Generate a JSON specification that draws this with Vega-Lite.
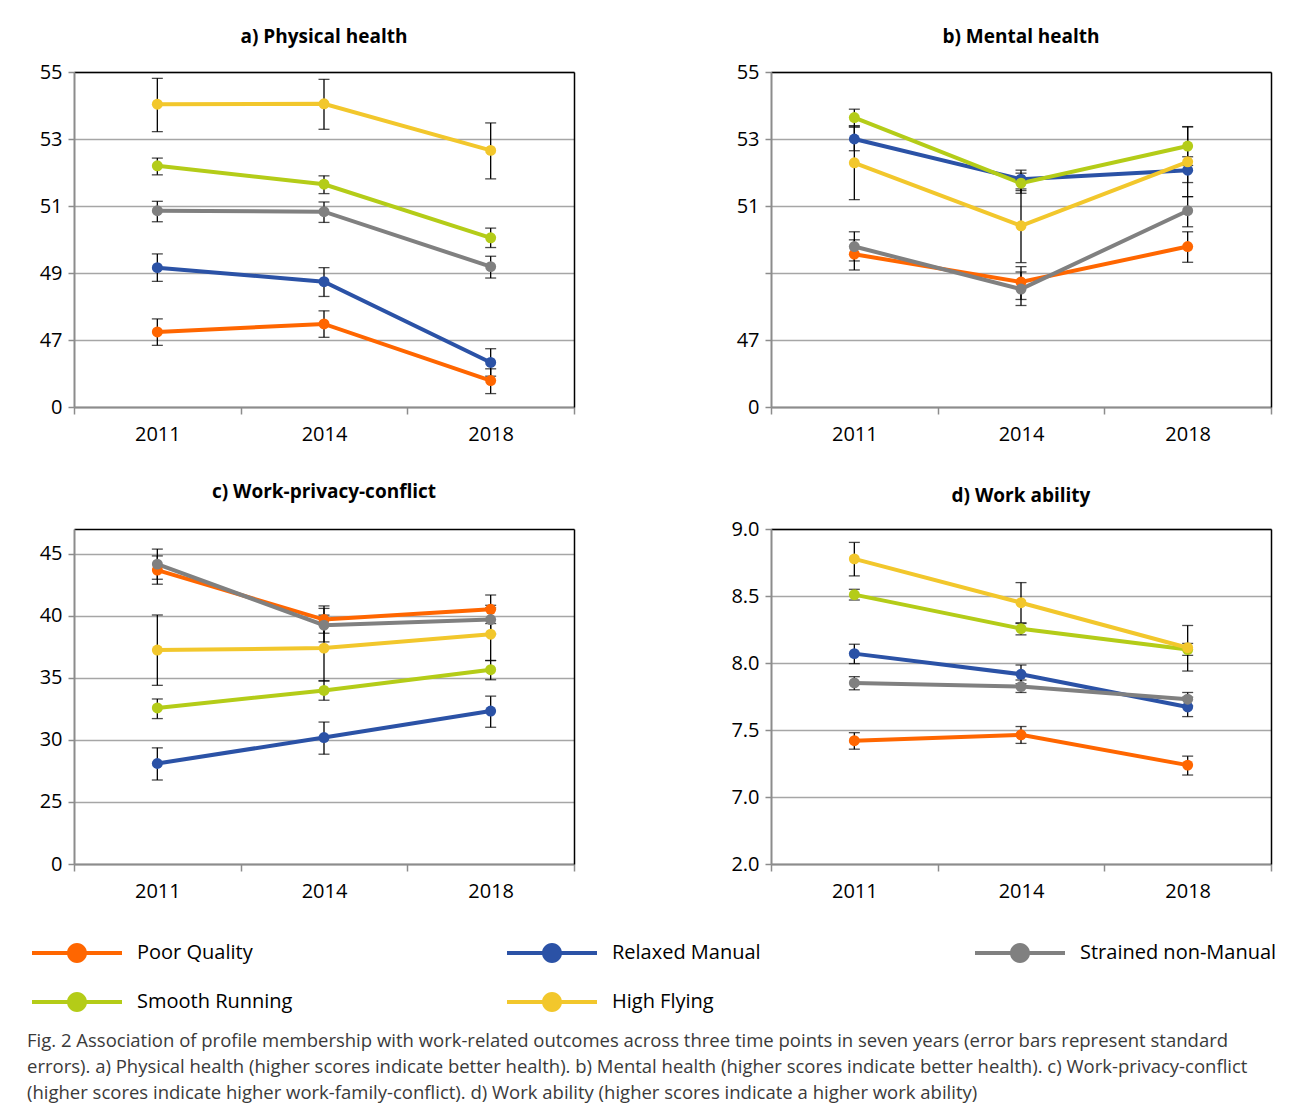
{
 "$schema": "https://vega.github.io/schema/vega-lite/v6.json",
 "background": "white",
 "padding": {"left": 27, "top": 28, "right": 5, "bottom": 5},
 "config": {
  "font": "Open Sans",
  "view": {"stroke": null},
  "axis": {"labelFont": "Open Sans", "labelFontSize": 20, "labelColor": "black", "domainColor": "#8c8c8c", "domainWidth": 2, "tickColor": "#8c8c8c", "tickWidth": 1.5, "gridColor": "#a6a6a6", "gridWidth": 1.5},
  "title": {"font": "Open Sans", "fontSize": 19, "fontWeight": "bold", "color": "black", "anchor": "middle", "offset": 15}
 },
 "datasets": {
  "phys": [
   {"profile": "Poor Quality", "year": "2011", "value": 47.24, "lo": 46.84, "hi": 47.63},
   {"profile": "Poor Quality", "year": "2014", "value": 47.48, "lo": 47.08, "hi": 47.87},
   {"profile": "Poor Quality", "year": "2018", "value": 45.79, "lo": 45.40, "hi": 46.14},
   {"profile": "Relaxed Manual", "year": "2011", "value": 49.16, "lo": 48.75, "hi": 49.57},
   {"profile": "Relaxed Manual", "year": "2014", "value": 48.74, "lo": 48.30, "hi": 49.16},
   {"profile": "Relaxed Manual", "year": "2018", "value": 46.33, "lo": 45.92, "hi": 46.74},
   {"profile": "Strained non-Manual", "year": "2011", "value": 50.86, "lo": 50.53, "hi": 51.14},
   {"profile": "Strained non-Manual", "year": "2014", "value": 50.83, "lo": 50.51, "hi": 51.12},
   {"profile": "Strained non-Manual", "year": "2018", "value": 49.19, "lo": 48.85, "hi": 49.50},
   {"profile": "Smooth Running", "year": "2011", "value": 52.20, "lo": 51.93, "hi": 52.43},
   {"profile": "Smooth Running", "year": "2014", "value": 51.65, "lo": 51.37, "hi": 51.90},
   {"profile": "Smooth Running", "year": "2018", "value": 50.05, "lo": 49.76, "hi": 50.34},
   {"profile": "High Flying", "year": "2011", "value": 54.04, "lo": 53.22, "hi": 54.81},
   {"profile": "High Flying", "year": "2014", "value": 54.05, "lo": 53.29, "hi": 54.78},
   {"profile": "High Flying", "year": "2018", "value": 52.66, "lo": 51.81, "hi": 53.48}
  ],
  "ment": [
   {"profile": "Poor Quality", "year": "2011", "value": 49.56, "lo": 49.09, "hi": 49.99},
   {"profile": "Poor Quality", "year": "2014", "value": 48.73, "lo": 48.21, "hi": 49.19},
   {"profile": "Poor Quality", "year": "2018", "value": 49.79, "lo": 49.32, "hi": 50.23},
   {"profile": "Relaxed Manual", "year": "2011", "value": 53.00, "lo": 52.65, "hi": 53.35},
   {"profile": "Relaxed Manual", "year": "2014", "value": 51.80, "lo": 51.46, "hi": 52.07},
   {"profile": "Relaxed Manual", "year": "2018", "value": 52.07, "lo": 51.70, "hi": 52.47},
   {"profile": "Strained non-Manual", "year": "2011", "value": 49.79, "lo": 49.36, "hi": 50.23},
   {"profile": "Strained non-Manual", "year": "2014", "value": 48.52, "lo": 48.03, "hi": 49.03},
   {"profile": "Strained non-Manual", "year": "2018", "value": 50.86, "lo": 50.38, "hi": 51.28},
   {"profile": "Smooth Running", "year": "2011", "value": 53.64, "lo": 53.39, "hi": 53.89},
   {"profile": "Smooth Running", "year": "2014", "value": 51.68, "lo": 51.38, "hi": 51.98},
   {"profile": "Smooth Running", "year": "2018", "value": 52.79, "lo": 52.21, "hi": 53.37},
   {"profile": "High Flying", "year": "2011", "value": 52.29, "lo": 51.19, "hi": 53.39},
   {"profile": "High Flying", "year": "2014", "value": 50.41, "lo": 49.31, "hi": 51.51},
   {"profile": "High Flying", "year": "2018", "value": 52.32, "lo": 51.28, "hi": 53.36}
  ],
  "wpc": [
   {"profile": "Poor Quality", "year": "2011", "value": 43.69, "lo": 42.55, "hi": 44.83},
   {"profile": "Poor Quality", "year": "2014", "value": 39.70, "lo": 38.60, "hi": 40.80},
   {"profile": "Poor Quality", "year": "2018", "value": 40.53, "lo": 39.38, "hi": 41.68},
   {"profile": "Relaxed Manual", "year": "2011", "value": 28.10, "lo": 26.77, "hi": 29.36},
   {"profile": "Relaxed Manual", "year": "2014", "value": 30.19, "lo": 28.85, "hi": 31.44},
   {"profile": "Relaxed Manual", "year": "2018", "value": 32.33, "lo": 31.02, "hi": 33.53},
   {"profile": "Strained non-Manual", "year": "2011", "value": 44.17, "lo": 42.95, "hi": 45.38},
   {"profile": "Strained non-Manual", "year": "2014", "value": 39.25, "lo": 37.90, "hi": 40.60},
   {"profile": "Strained non-Manual", "year": "2018", "value": 39.70, "lo": 38.55, "hi": 40.85},
   {"profile": "Smooth Running", "year": "2011", "value": 32.58, "lo": 31.72, "hi": 33.30},
   {"profile": "Smooth Running", "year": "2014", "value": 33.99, "lo": 33.20, "hi": 34.78},
   {"profile": "Smooth Running", "year": "2018", "value": 35.66, "lo": 34.85, "hi": 36.40},
   {"profile": "High Flying", "year": "2011", "value": 37.24, "lo": 34.40, "hi": 40.07},
   {"profile": "High Flying", "year": "2014", "value": 37.40, "lo": 34.74, "hi": 40.06},
   {"profile": "High Flying", "year": "2018", "value": 38.52, "lo": 36.40, "hi": 40.64}
  ],
  "wa": [
   {"profile": "Poor Quality", "year": "2011", "value": 7.420, "lo": 7.357, "hi": 7.480},
   {"profile": "Poor Quality", "year": "2014", "value": 7.464, "lo": 7.400, "hi": 7.526},
   {"profile": "Poor Quality", "year": "2018", "value": 7.238, "lo": 7.164, "hi": 7.305},
   {"profile": "Relaxed Manual", "year": "2011", "value": 8.070, "lo": 7.995, "hi": 8.140},
   {"profile": "Relaxed Manual", "year": "2014", "value": 7.916, "lo": 7.845, "hi": 7.985},
   {"profile": "Relaxed Manual", "year": "2018", "value": 7.672, "lo": 7.600, "hi": 7.745},
   {"profile": "Strained non-Manual", "year": "2011", "value": 7.851, "lo": 7.800, "hi": 7.898},
   {"profile": "Strained non-Manual", "year": "2014", "value": 7.824, "lo": 7.780, "hi": 7.873},
   {"profile": "Strained non-Manual", "year": "2018", "value": 7.730, "lo": 7.680, "hi": 7.780},
   {"profile": "Smooth Running", "year": "2011", "value": 8.510, "lo": 8.470, "hi": 8.550},
   {"profile": "Smooth Running", "year": "2014", "value": 8.256, "lo": 8.210, "hi": 8.295},
   {"profile": "Smooth Running", "year": "2018", "value": 8.100, "lo": 8.057, "hi": 8.146},
   {"profile": "High Flying", "year": "2011", "value": 8.777, "lo": 8.650, "hi": 8.900},
   {"profile": "High Flying", "year": "2014", "value": 8.450, "lo": 8.300, "hi": 8.600},
   {"profile": "High Flying", "year": "2018", "value": 8.114, "lo": 7.940, "hi": 8.280}
  ]
 },
 "title": {
  "text": [
   "Fig. 2 Association of profile membership with work-related outcomes across three time points in seven years (error bars represent standard",
   "errors). a) Physical health (higher scores indicate better health). b) Mental health (higher scores indicate better health). c) Work-privacy-conflict",
   "(higher scores indicate higher work-family-conflict). d) Work ability (higher scores indicate a higher work ability)"
  ],
  "orient": "bottom",
  "anchor": "start",
  "frame": "group",
  "dx": -47,
  "fontSize": 18.5,
  "fontWeight": "normal",
  "color": "#3a3a3a",
  "lineHeight": 26,
  "offset": 20
 },
 "columns": 2,
 "spacing": {"row": 39, "column": 155},
 "concat": [
  {
   "title": {"text": "a) Physical health", "offset": 15},
   "width": 500, "height": 335,
   "data": {"name": "phys"},
   "resolve": {"axis": {"x": "independent", "y": "independent"}},
   "layer": [
    {"mark": {"type": "rule", "color": "black", "strokeWidth": 1.3},
     "encoding": {
      "x": {"field": "year", "type": "ordinal", "scale": {"type": "band", "paddingInner": 0, "paddingOuter": 0}, "axis": {"orient": "bottom", "title": null, "tickBand": "extent", "labelAngle": 0, "grid": false, "tickSize": 7, "labelPadding": 10}},
      "y": {"field": "lo", "type": "quantitative", "scale": {"domain": [45, 55], "nice": false, "zero": false}, "axis": {"orient": "left", "title": null, "values": [45, 47, 49, 51, 53, 55], "labelExpr": "datum.value == 45 ? '0' : datum.label", "tickSize": 6, "labelPadding": 6}},
      "y2": {"field": "hi"}}},
    {"mark": {"type": "tick", "color": "black", "size": 11, "thickness": 1.3},
     "encoding": {
      "x": {"field": "year", "type": "ordinal", "scale": {"type": "band", "paddingInner": 0, "paddingOuter": 0}, "axis": null},
      "y": {"field": "lo", "type": "quantitative", "scale": {"domain": [45, 55], "nice": false, "zero": false}, "axis": null}}},
    {"mark": {"type": "tick", "color": "black", "size": 11, "thickness": 1.3},
     "encoding": {
      "x": {"field": "year", "type": "ordinal", "scale": {"type": "band", "paddingInner": 0, "paddingOuter": 0}, "axis": null},
      "y": {"field": "hi", "type": "quantitative", "scale": {"domain": [45, 55], "nice": false, "zero": false}, "axis": null}}},
    {"mark": {"type": "line", "strokeWidth": 4},
     "encoding": {
      "x": {"field": "year", "type": "ordinal", "scale": {"type": "band", "paddingInner": 0, "paddingOuter": 0}, "axis": {"orient": "top", "title": null, "labels": false, "ticks": false, "grid": false, "domainColor": "black", "domainWidth": 1.5}},
      "y": {"field": "value", "type": "quantitative", "scale": {"domain": [45, 55], "nice": false, "zero": false}, "axis": {"orient": "right", "title": null, "labels": false, "ticks": false, "grid": false, "domainColor": "black", "domainWidth": 1.5}},
      "color": {"field": "profile", "type": "nominal", "scale": {"domain": ["Poor Quality", "Relaxed Manual", "Strained non-Manual", "Smooth Running", "High Flying"], "range": ["#ff6600", "#2b52a6", "#808080", "#b4cc18", "#f2c72c"]},
       "legend": {"title": null, "orient": "none", "legendX": -27, "legendY": 851, "direction": "horizontal", "columns": 3, "symbolType": "M-1.5,-0.0667H1.5V0.0667H-1.5Z M0.333,0A0.333,0.333 0 1,1 -0.333,0A0.333,0.333 0 1,1 0.333,0Z", "symbolSize": 3600, "symbolStrokeWidth": 0, "symbolOpacity": 1, "labelFont": "Open Sans", "labelFontSize": 20, "labelColor": "black", "labelOffset": 30, "columnPadding": 214, "rowPadding": 9, "labelLimit": 400}}}},
    {"mark": {"type": "point", "filled": true, "size": 120, "opacity": 1},
     "encoding": {
      "x": {"field": "year", "type": "ordinal", "scale": {"type": "band", "paddingInner": 0, "paddingOuter": 0}, "axis": null},
      "y": {"field": "value", "type": "quantitative", "scale": {"domain": [45, 55], "nice": false, "zero": false}, "axis": null},
      "color": {"field": "profile", "type": "nominal", "scale": {"domain": ["Poor Quality", "Relaxed Manual", "Strained non-Manual", "Smooth Running", "High Flying"], "range": ["#ff6600", "#2b52a6", "#808080", "#b4cc18", "#f2c72c"]},
       "legend": {"title": null, "orient": "none", "legendX": -27, "legendY": 851, "direction": "horizontal", "columns": 3, "symbolType": "M-1.5,-0.0667H1.5V0.0667H-1.5Z M0.333,0A0.333,0.333 0 1,1 -0.333,0A0.333,0.333 0 1,1 0.333,0Z", "symbolSize": 3600, "symbolStrokeWidth": 0, "symbolOpacity": 1, "labelFont": "Open Sans", "labelFontSize": 20, "labelColor": "black", "labelOffset": 30, "columnPadding": 214, "rowPadding": 9, "labelLimit": 400}}}}
   ]
  },
  {
   "title": {"text": "b) Mental health", "offset": 15},
   "width": 500, "height": 335,
   "data": {"name": "ment"},
   "resolve": {"axis": {"x": "independent", "y": "independent"}},
   "layer": [
    {"mark": {"type": "rule", "color": "black", "strokeWidth": 1.3},
     "encoding": {
      "x": {"field": "year", "type": "ordinal", "scale": {"type": "band", "paddingInner": 0, "paddingOuter": 0}, "axis": {"orient": "bottom", "title": null, "tickBand": "extent", "labelAngle": 0, "grid": false, "tickSize": 7, "labelPadding": 10}},
      "y": {"field": "lo", "type": "quantitative", "scale": {"domain": [45, 55], "nice": false, "zero": false}, "axis": {"orient": "left", "title": null, "values": [45, 47, 49, 51, 53, 55], "labelExpr": "datum.value == 45 ? '0' : datum.value == 49 ? '' : datum.label", "tickSize": 6, "labelPadding": 6}},
      "y2": {"field": "hi"}}},
    {"mark": {"type": "tick", "color": "black", "size": 11, "thickness": 1.3},
     "encoding": {
      "x": {"field": "year", "type": "ordinal", "scale": {"type": "band", "paddingInner": 0, "paddingOuter": 0}, "axis": null},
      "y": {"field": "lo", "type": "quantitative", "scale": {"domain": [45, 55], "nice": false, "zero": false}, "axis": null}}},
    {"mark": {"type": "tick", "color": "black", "size": 11, "thickness": 1.3},
     "encoding": {
      "x": {"field": "year", "type": "ordinal", "scale": {"type": "band", "paddingInner": 0, "paddingOuter": 0}, "axis": null},
      "y": {"field": "hi", "type": "quantitative", "scale": {"domain": [45, 55], "nice": false, "zero": false}, "axis": null}}},
    {"mark": {"type": "line", "strokeWidth": 4},
     "encoding": {
      "x": {"field": "year", "type": "ordinal", "scale": {"type": "band", "paddingInner": 0, "paddingOuter": 0}, "axis": {"orient": "top", "title": null, "labels": false, "ticks": false, "grid": false, "domainColor": "black", "domainWidth": 1.5}},
      "y": {"field": "value", "type": "quantitative", "scale": {"domain": [45, 55], "nice": false, "zero": false}, "axis": {"orient": "right", "title": null, "labels": false, "ticks": false, "grid": false, "domainColor": "black", "domainWidth": 1.5}},
      "color": {"field": "profile", "type": "nominal", "scale": {"domain": ["Poor Quality", "Relaxed Manual", "Strained non-Manual", "Smooth Running", "High Flying"], "range": ["#ff6600", "#2b52a6", "#808080", "#b4cc18", "#f2c72c"]},
       "legend": {"title": null, "orient": "none", "legendX": -27, "legendY": 851, "direction": "horizontal", "columns": 3, "symbolType": "M-1.5,-0.0667H1.5V0.0667H-1.5Z M0.333,0A0.333,0.333 0 1,1 -0.333,0A0.333,0.333 0 1,1 0.333,0Z", "symbolSize": 3600, "symbolStrokeWidth": 0, "symbolOpacity": 1, "labelFont": "Open Sans", "labelFontSize": 20, "labelColor": "black", "labelOffset": 30, "columnPadding": 214, "rowPadding": 9, "labelLimit": 400}}}},
    {"mark": {"type": "point", "filled": true, "size": 120, "opacity": 1},
     "encoding": {
      "x": {"field": "year", "type": "ordinal", "scale": {"type": "band", "paddingInner": 0, "paddingOuter": 0}, "axis": null},
      "y": {"field": "value", "type": "quantitative", "scale": {"domain": [45, 55], "nice": false, "zero": false}, "axis": null},
      "color": {"field": "profile", "type": "nominal", "scale": {"domain": ["Poor Quality", "Relaxed Manual", "Strained non-Manual", "Smooth Running", "High Flying"], "range": ["#ff6600", "#2b52a6", "#808080", "#b4cc18", "#f2c72c"]},
       "legend": {"title": null, "orient": "none", "legendX": -27, "legendY": 851, "direction": "horizontal", "columns": 3, "symbolType": "M-1.5,-0.0667H1.5V0.0667H-1.5Z M0.333,0A0.333,0.333 0 1,1 -0.333,0A0.333,0.333 0 1,1 0.333,0Z", "symbolSize": 3600, "symbolStrokeWidth": 0, "symbolOpacity": 1, "labelFont": "Open Sans", "labelFontSize": 20, "labelColor": "black", "labelOffset": 30, "columnPadding": 214, "rowPadding": 9, "labelLimit": 400}}}}
   ]
  },
  {
   "title": {"text": "c) Work-privacy-conflict", "offset": 27},
   "width": 500, "height": 335,
   "data": {"name": "wpc"},
   "resolve": {"axis": {"x": "independent", "y": "independent"}},
   "layer": [
    {"mark": {"type": "rule", "color": "black", "strokeWidth": 1.3},
     "encoding": {
      "x": {"field": "year", "type": "ordinal", "scale": {"type": "band", "paddingInner": 0, "paddingOuter": 0}, "axis": {"orient": "bottom", "title": null, "tickBand": "extent", "labelAngle": 0, "grid": false, "tickSize": 7, "labelPadding": 10}},
      "y": {"field": "lo", "type": "quantitative", "scale": {"domain": [20, 47], "nice": false, "zero": false}, "axis": {"orient": "left", "title": null, "values": [20, 25, 30, 35, 40, 45], "labelExpr": "datum.value == 20 ? '0' : datum.label", "tickSize": 6, "labelPadding": 6}},
      "y2": {"field": "hi"}}},
    {"mark": {"type": "tick", "color": "black", "size": 11, "thickness": 1.3},
     "encoding": {
      "x": {"field": "year", "type": "ordinal", "scale": {"type": "band", "paddingInner": 0, "paddingOuter": 0}, "axis": null},
      "y": {"field": "lo", "type": "quantitative", "scale": {"domain": [20, 47], "nice": false, "zero": false}, "axis": null}}},
    {"mark": {"type": "tick", "color": "black", "size": 11, "thickness": 1.3},
     "encoding": {
      "x": {"field": "year", "type": "ordinal", "scale": {"type": "band", "paddingInner": 0, "paddingOuter": 0}, "axis": null},
      "y": {"field": "hi", "type": "quantitative", "scale": {"domain": [20, 47], "nice": false, "zero": false}, "axis": null}}},
    {"mark": {"type": "line", "strokeWidth": 4},
     "encoding": {
      "x": {"field": "year", "type": "ordinal", "scale": {"type": "band", "paddingInner": 0, "paddingOuter": 0}, "axis": {"orient": "top", "title": null, "labels": false, "ticks": false, "grid": false, "domainColor": "black", "domainWidth": 1.5}},
      "y": {"field": "value", "type": "quantitative", "scale": {"domain": [20, 47], "nice": false, "zero": false}, "axis": {"orient": "right", "title": null, "labels": false, "ticks": false, "grid": false, "domainColor": "black", "domainWidth": 1.5}},
      "color": {"field": "profile", "type": "nominal", "scale": {"domain": ["Poor Quality", "Relaxed Manual", "Strained non-Manual", "Smooth Running", "High Flying"], "range": ["#ff6600", "#2b52a6", "#808080", "#b4cc18", "#f2c72c"]},
       "legend": {"title": null, "orient": "none", "legendX": -27, "legendY": 851, "direction": "horizontal", "columns": 3, "symbolType": "M-1.5,-0.0667H1.5V0.0667H-1.5Z M0.333,0A0.333,0.333 0 1,1 -0.333,0A0.333,0.333 0 1,1 0.333,0Z", "symbolSize": 3600, "symbolStrokeWidth": 0, "symbolOpacity": 1, "labelFont": "Open Sans", "labelFontSize": 20, "labelColor": "black", "labelOffset": 30, "columnPadding": 214, "rowPadding": 9, "labelLimit": 400}}}},
    {"mark": {"type": "point", "filled": true, "size": 120, "opacity": 1},
     "encoding": {
      "x": {"field": "year", "type": "ordinal", "scale": {"type": "band", "paddingInner": 0, "paddingOuter": 0}, "axis": null},
      "y": {"field": "value", "type": "quantitative", "scale": {"domain": [20, 47], "nice": false, "zero": false}, "axis": null},
      "color": {"field": "profile", "type": "nominal", "scale": {"domain": ["Poor Quality", "Relaxed Manual", "Strained non-Manual", "Smooth Running", "High Flying"], "range": ["#ff6600", "#2b52a6", "#808080", "#b4cc18", "#f2c72c"]},
       "legend": {"title": null, "orient": "none", "legendX": -27, "legendY": 851, "direction": "horizontal", "columns": 3, "symbolType": "M-1.5,-0.0667H1.5V0.0667H-1.5Z M0.333,0A0.333,0.333 0 1,1 -0.333,0A0.333,0.333 0 1,1 0.333,0Z", "symbolSize": 3600, "symbolStrokeWidth": 0, "symbolOpacity": 1, "labelFont": "Open Sans", "labelFontSize": 20, "labelColor": "black", "labelOffset": 30, "columnPadding": 214, "rowPadding": 9, "labelLimit": 400}}}}
   ]
  },
  {
   "title": {"text": "d) Work ability", "offset": 13},
   "width": 500, "height": 335,
   "data": {"name": "wa"},
   "resolve": {"axis": {"x": "independent", "y": "independent"}},
   "layer": [
    {"mark": {"type": "rule", "color": "black", "strokeWidth": 1.3},
     "encoding": {
      "x": {"field": "year", "type": "ordinal", "scale": {"type": "band", "paddingInner": 0, "paddingOuter": 0}, "axis": {"orient": "bottom", "title": null, "tickBand": "extent", "labelAngle": 0, "grid": false, "tickSize": 7, "labelPadding": 10}},
      "y": {"field": "lo", "type": "quantitative", "scale": {"domain": [6.5, 9], "nice": false, "zero": false}, "axis": {"orient": "left", "title": null, "values": [6.5, 7, 7.5, 8, 8.5, 9], "labelExpr": "datum.value == 6.5 ? '2.0' : format(datum.value, '.1f')", "tickSize": 6, "labelPadding": 6}},
      "y2": {"field": "hi"}}},
    {"mark": {"type": "tick", "color": "black", "size": 11, "thickness": 1.3},
     "encoding": {
      "x": {"field": "year", "type": "ordinal", "scale": {"type": "band", "paddingInner": 0, "paddingOuter": 0}, "axis": null},
      "y": {"field": "lo", "type": "quantitative", "scale": {"domain": [6.5, 9], "nice": false, "zero": false}, "axis": null}}},
    {"mark": {"type": "tick", "color": "black", "size": 11, "thickness": 1.3},
     "encoding": {
      "x": {"field": "year", "type": "ordinal", "scale": {"type": "band", "paddingInner": 0, "paddingOuter": 0}, "axis": null},
      "y": {"field": "hi", "type": "quantitative", "scale": {"domain": [6.5, 9], "nice": false, "zero": false}, "axis": null}}},
    {"mark": {"type": "line", "strokeWidth": 4},
     "encoding": {
      "x": {"field": "year", "type": "ordinal", "scale": {"type": "band", "paddingInner": 0, "paddingOuter": 0}, "axis": {"orient": "top", "title": null, "labels": false, "ticks": false, "grid": false, "domainColor": "black", "domainWidth": 1.5}},
      "y": {"field": "value", "type": "quantitative", "scale": {"domain": [6.5, 9], "nice": false, "zero": false}, "axis": {"orient": "right", "title": null, "labels": false, "ticks": false, "grid": false, "domainColor": "black", "domainWidth": 1.5}},
      "color": {"field": "profile", "type": "nominal", "scale": {"domain": ["Poor Quality", "Relaxed Manual", "Strained non-Manual", "Smooth Running", "High Flying"], "range": ["#ff6600", "#2b52a6", "#808080", "#b4cc18", "#f2c72c"]},
       "legend": {"title": null, "orient": "none", "legendX": -27, "legendY": 851, "direction": "horizontal", "columns": 3, "symbolType": "M-1.5,-0.0667H1.5V0.0667H-1.5Z M0.333,0A0.333,0.333 0 1,1 -0.333,0A0.333,0.333 0 1,1 0.333,0Z", "symbolSize": 3600, "symbolStrokeWidth": 0, "symbolOpacity": 1, "labelFont": "Open Sans", "labelFontSize": 20, "labelColor": "black", "labelOffset": 30, "columnPadding": 214, "rowPadding": 9, "labelLimit": 400}}}},
    {"mark": {"type": "point", "filled": true, "size": 120, "opacity": 1},
     "encoding": {
      "x": {"field": "year", "type": "ordinal", "scale": {"type": "band", "paddingInner": 0, "paddingOuter": 0}, "axis": null},
      "y": {"field": "value", "type": "quantitative", "scale": {"domain": [6.5, 9], "nice": false, "zero": false}, "axis": null},
      "color": {"field": "profile", "type": "nominal", "scale": {"domain": ["Poor Quality", "Relaxed Manual", "Strained non-Manual", "Smooth Running", "High Flying"], "range": ["#ff6600", "#2b52a6", "#808080", "#b4cc18", "#f2c72c"]},
       "legend": {"title": null, "orient": "none", "legendX": -27, "legendY": 851, "direction": "horizontal", "columns": 3, "symbolType": "M-1.5,-0.0667H1.5V0.0667H-1.5Z M0.333,0A0.333,0.333 0 1,1 -0.333,0A0.333,0.333 0 1,1 0.333,0Z", "symbolSize": 3600, "symbolStrokeWidth": 0, "symbolOpacity": 1, "labelFont": "Open Sans", "labelFontSize": 20, "labelColor": "black", "labelOffset": 30, "columnPadding": 214, "rowPadding": 9, "labelLimit": 400}}}}
   ]
  }
 ]
}
